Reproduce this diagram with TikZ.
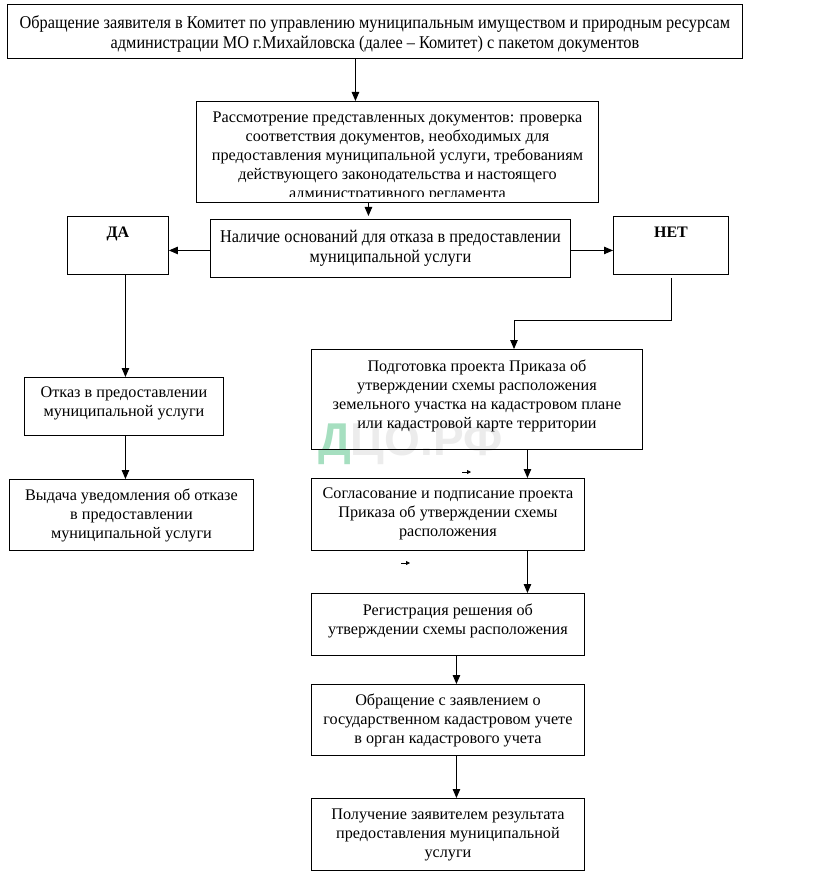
\documentclass[tikz,border=0pt]{standalone}
\usepackage{fontspec}
\setmainfont{Liberation Serif}
\newfontfamily\narrowserif[FakeStretch=0.905]{Liberation Serif}
\newfontfamily\wmfont{Liberation Sans}
\usetikzlibrary{arrows.meta}
\definecolor{wmgreen}{HTML}{A6DFC0}
\definecolor{wmgray}{HTML}{ECECEC}
\begin{document}
\begin{tikzpicture}[x=1pt,y=-1pt,
  box/.style={draw, line width=0.9pt, inner sep=0pt, anchor=north west},
  txt/.style={inner sep=0pt, anchor=north, align=center,
    font=\fontsize{16.2}{19}\selectfont, execute at begin node={\rule{0pt}{12pt}}},
  ntxt/.style={inner sep=0pt, anchor=north, align=center,
    font=\narrowserif\fontsize{18}{20}\selectfont, execute at begin node={\rule{0pt}{12pt}}},
  arr/.style={line width=0.9pt, -{Triangle[length=9pt,width=7.5pt]}},
  smallarr/.style={line width=0.8pt, -{Triangle[length=4pt,width=4pt]}}]
\useasboundingbox (0,0) rectangle (830,874);
\fill[white] (0,0) rectangle (830,874);

% watermark
\node[inner sep=0pt, anchor=base west, font=\wmfont\bfseries\fontsize{46}{46}\selectfont] (wm) at (318,455)
  {\textcolor{wmgreen}{Д}\textcolor{wmgray}{ЦО.РФ}};

% boxes
\node[box, minimum width=735pt, minimum height=54pt] (b1) at (7,4) {};
\node[box, minimum width=402pt, minimum height=101pt] (b2) at (196,101) {};
\node[box, minimum width=360pt, minimum height=58pt] (b3) at (210,219) {};
\node[box, minimum width=101pt, minimum height=58pt] (bda) at (67,216) {};
\node[box, minimum width=115pt, minimum height=58pt] (bnet) at (613,216) {};
\node[box, minimum width=331pt, minimum height=100pt] (b4) at (311,349) {};
\node[box, minimum width=199pt, minimum height=58pt] (b5) at (24,377) {};
\node[box, minimum width=244pt, minimum height=71pt] (b6) at (9,479) {};
\node[box, minimum width=273pt, minimum height=72pt] (b7) at (311,478) {};
\node[box, minimum width=273pt, minimum height=62pt] (b8) at (311,593) {};
\node[box, minimum width=273pt, minimum height=71pt] (b9) at (311,684) {};
\node[box, minimum width=273pt, minimum height=72pt] (b10) at (311,798) {};

% texts
\node[ntxt] (t1) at ([yshift=-11pt]b1.north)
  {Обращение заявителя в Комитет по управлению муниципальным имуществом и природным ресурсам\\
   администрации МО г.Михайловска (далее – Комитет) с пакетом документов};
\begin{scope}
\clip (b2.north west) rectangle ([yshift=6pt]b2.south east);
\node[txt] (t2) at ([yshift=-10.5pt]b2.north)
  {Рассмотрение представленных документов: проверка\\
   соответствия документов, необходимых для\\
   предоставления муниципальной услуги, требованиям\\
   действующего законодательства и настоящего\\
   административного регламента};
\end{scope}
\node[ntxt] (t3) at ([yshift=-11pt]b3.north)
  {Наличие оснований для отказа в предоставлении\\ муниципальной услуги};
\node[txt, font=\bfseries\fontsize{16}{19}\selectfont] (tda) at ([yshift=-9pt]bda.north) {ДА};
\node[txt, font=\bfseries\fontsize{16}{19}\selectfont] (tnet) at ([yshift=-9pt]bnet.north) {НЕТ};
\node[txt] (t4) at ([yshift=-10.5pt]b4.north)
  {Подготовка проекта Приказа об\\ утверждении схемы расположения\\
   земельного участка на кадастровом плане\\ или кадастровой карте территории};
\node[txt] (t5) at ([yshift=-10pt]b5.north)
  {Отказ в предоставлении\\ муниципальной услуги};
\node[txt] (t6) at ([yshift=-9.5pt]b6.north)
  {Выдача уведомления об отказе\\ в предоставлении\\ муниципальной услуги};
\node[txt] (t7) at ([yshift=-10pt]b7.north)
  {Согласование и подписание проекта\\ Приказа об утверждении схемы\\ расположения};
\node[txt] (t8) at ([yshift=-10.5pt]b8.north)
  {Регистрация решения об\\ утверждении схемы расположения};
\node[txt] (t9) at ([yshift=-10pt]b9.north)
  {Обращение с заявлением о\\ государственном кадастровом учете\\ в орган кадастрового учета};
\node[txt] (t10) at ([yshift=-10.5pt]b10.north)
  {Получение заявителем результата\\ предоставления муниципальной\\ услуги};

% connectors
\draw[arr] ([xshift=-19.5pt]b1.south) coordinate (s1) -- (s1 |- b2.north);
\draw[arr, shorten >=3pt] ([xshift=-29pt]b2.south) coordinate (s2) -- (s2 |- b3.north);
\draw[arr] ([yshift=-2pt]b3.west) coordinate (s3) -- (s3 -| bda.east);
\draw[arr] ([yshift=-2pt]b3.east) coordinate (s4) -- (s4 -| bnet.west);
\coordinate (nj) at (514,320);
\draw[arr] ([yshift=-3pt]bnet.south) |- (nj) -- (nj |- b4.north);
\draw[arr] ([xshift=1.5pt]b5.north |- bda.south) coordinate (s5) -- (s5 |- b5.north);
\draw[arr] ([xshift=1.5pt]b5.south) coordinate (s6) -- (s6 |- b6.north);
\draw[arr] ([xshift=50.5pt]b4.south) coordinate (s7) -- (s7 |- b7.north);
\draw[arr] ([xshift=79.5pt]b7.south) coordinate (s8) -- (s8 |- b8.north);
\draw[arr] ([xshift=8.5pt]b8.south) coordinate (s9) -- (s9 |- b9.north);
\draw[arr] ([xshift=8.5pt]b9.south) coordinate (s10) -- (s10 |- b10.north);

% stray small arrows
\coordinate (sa1) at (462,472);
\coordinate (sa1e) at (471,472);
\draw[smallarr] (sa1) -- (sa1e);
\coordinate (sa2) at (401,563);
\coordinate (sa2e) at (410,563);
\draw[smallarr] (sa2) -- (sa2e);
\end{tikzpicture}
\end{document}
